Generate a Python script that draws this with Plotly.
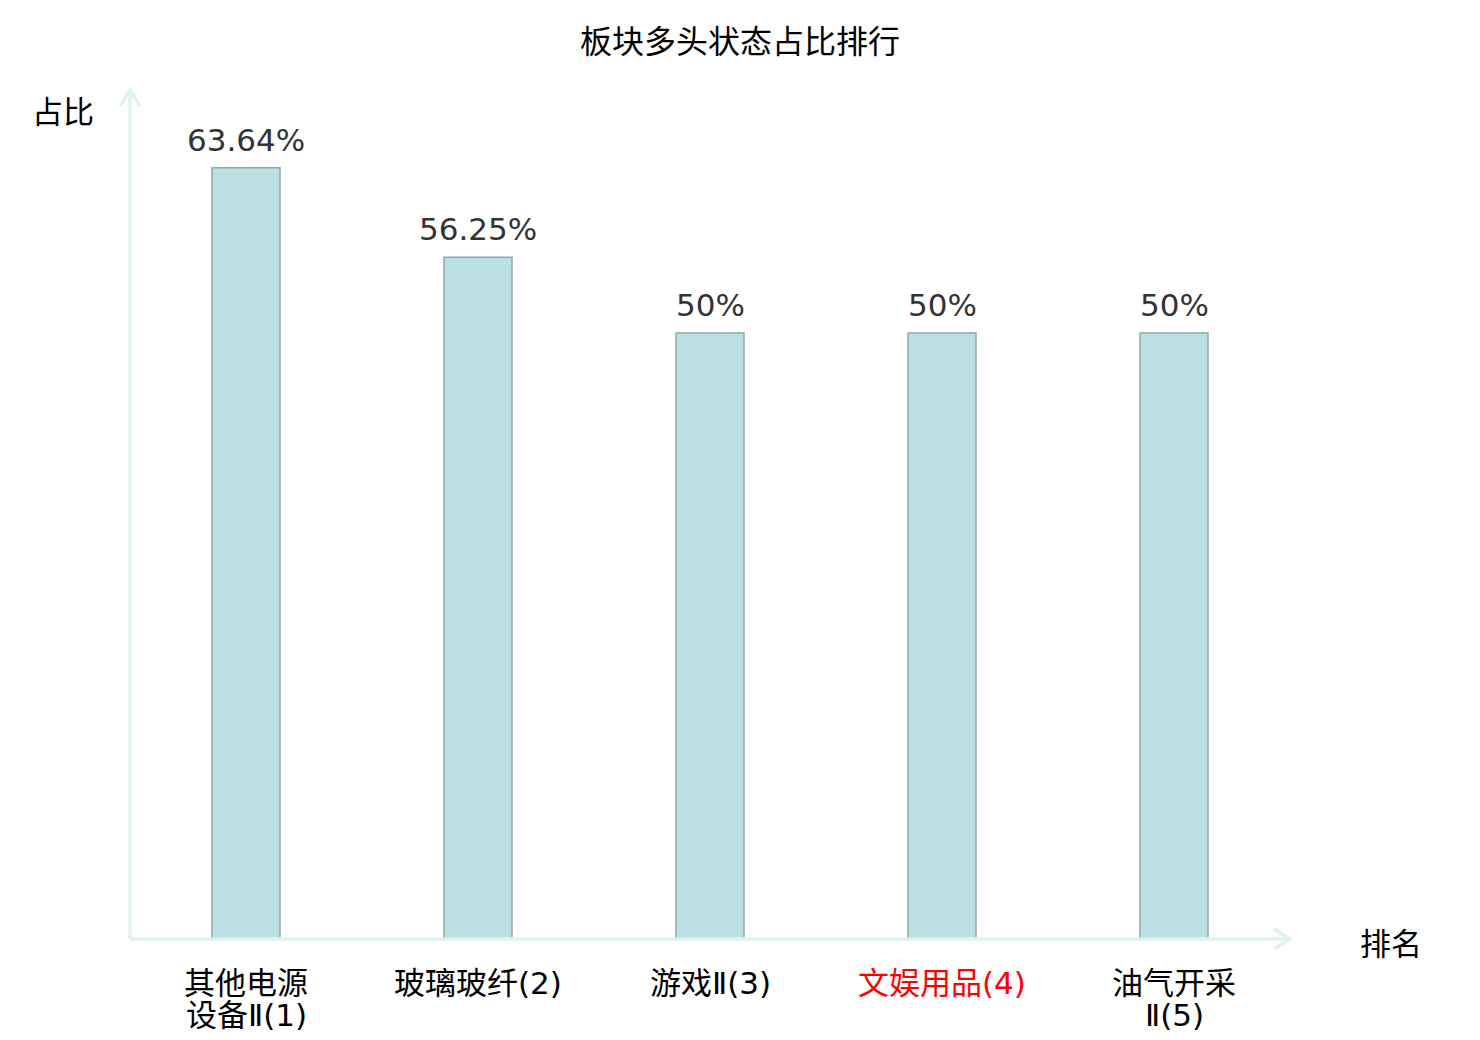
import plotly.graph_objects as go

# ranking of sectors by share of bullish stocks
categories = ['其他电源<br>设备Ⅱ(1)', '玻璃玻纤(2)', '游戏Ⅱ(3)', '文娱用品(4)', '油气开采<br>Ⅱ(5)']
values = [63.64, 56.25, 50, 50, 50]
label_colors = ['#000000', '#000000', '#000000', '#ff0000', '#000000']

labels = [f'{v:g}%' for v in values]

W, H = 1480, 1040
OFF = 8  # page body margin
L, T = 130 - OFF, 90 - OFF
PW, PH = 1160, 849
R, B = W - L - PW, H - T - PH
AXIS = '#dff2f0'
FONT = 'DejaVu Sans, Noto Sans CJK SC, sans-serif'
CJK = 'Noto Sans CJK SC, sans-serif'

bar = go.Bar(
    x=list(range(len(values))), y=values,
    width=0.293,
    marker=dict(color='#bbe0e3', line=dict(color='#8fa8a8', width=1.5)),
    hoverinfo='skip',
)
fig = go.Figure([bar])

for i, (v, t) in enumerate(zip(values, labels)):
    fig.add_annotation(x=i, y=v, text=t, showarrow=False, xanchor='center', yanchor='bottom',
                       yshift=8, font=dict(size=31, color='#333333', family=FONT))

# category labels under the axis, one annotation per line to keep the tight line spacing
for i, (cat, col) in enumerate(zip(categories, label_colors)):
    for k, line in enumerate(cat.split('<br>')):
        fig.add_annotation(x=i, y=0, yref='paper', text=line, showarrow=False,
                           xanchor='center', yanchor='middle', yshift=-(44 + 32 * k),
                           font=dict(size=31, color=col, family=FONT))

# pixel (as seen on the page) -> paper coords
def px(x):
    return (x - 130) / PW
def py(y):
    return (939 - y) / PH

chev = 16
fig.add_shape(type='line', xref='paper', yref='paper', x0=0, y0=0, x1=0, y1=1,
              line=dict(color=AXIS, width=3.5))
fig.add_shape(type='line', xref='paper', yref='paper', x0=0, y0=0, x1=1, y1=0,
              line=dict(color=AXIS, width=3.5))
fig.add_shape(type='path', xref='paper', yref='paper',
              path=f'M {px(120)} {py(90 + chev)} L 0 1 L {px(140)} {py(90 + chev)}',
              line=dict(color=AXIS, width=3.5))
fig.add_shape(type='path', xref='paper', yref='paper',
              path=f'M {px(1290 - chev)} {py(929)} L 1 0 L {px(1290 - chev)} {py(949)}',
              line=dict(color=AXIS, width=3.5))

fig.add_annotation(text='占比', xref='paper', yref='paper', x=px(63), y=py(110),
                   xanchor='center', yanchor='middle',
                   showarrow=False, font=dict(size=31, color='#000000', family=CJK))
fig.add_annotation(text='排名', xref='paper', yref='paper', x=px(1391), y=py(941),
                   xanchor='center', yanchor='middle',
                   showarrow=False, font=dict(size=31, color='#000000', family=CJK))

fig.update_layout(
    width=W, height=H,
    margin=dict(l=L, r=R, t=T, b=B),
    paper_bgcolor='white', plot_bgcolor='white',
    showlegend=False,
    title=dict(text='板块多头状态占比排行', x=(740 - OFF) / W, xanchor='center',
               y=1 - (42 - OFF) / H, yanchor='middle',
               font=dict(size=32, color='#000000', family=CJK)),
    xaxis=dict(
        range=[-0.5, len(values) - 0.5],
        showticklabels=False, automargin=False,
        showgrid=False, zeroline=False, showline=False,
    ),
    yaxis=dict(
        range=[0, 70.05], automargin=False,
        showgrid=False, zeroline=False, showline=False, showticklabels=False,
    ),
)

fig.write_html('out.html')
